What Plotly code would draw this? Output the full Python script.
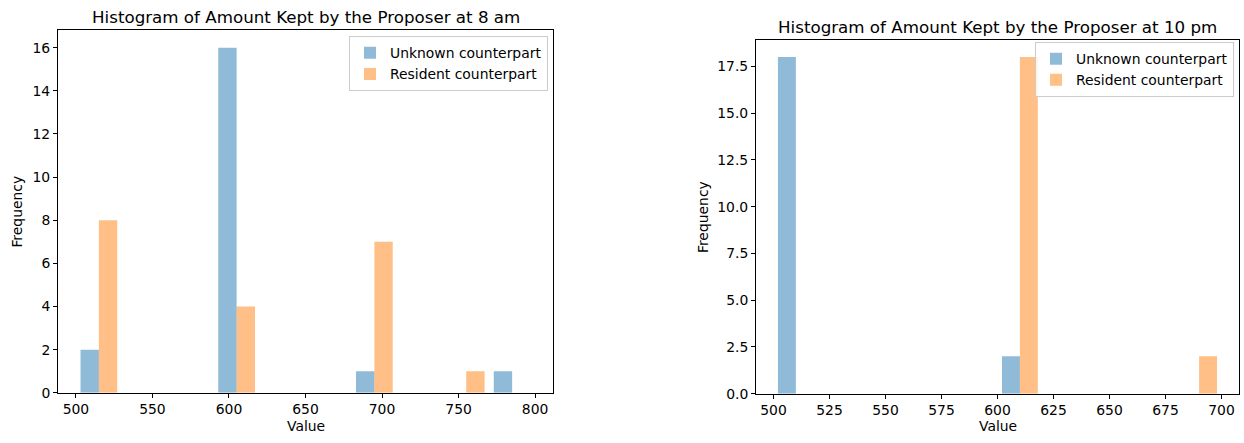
import plotly.graph_objects as go

W, H = 1244, 443

# ---- data (histogram counts per bin) ----
left_bin_starts = [500, 530, 560, 590, 620, 650, 680, 710, 740, 770]
left_unknown = [2, 0, 0, 16, 0, 0, 1, 0, 0, 1]
left_resident = [8, 0, 0, 4, 0, 0, 7, 0, 1, 0]
left_bin_width = 30

right_bin_starts = [500, 520, 540, 560, 580, 600, 620, 640, 660, 680]
right_unknown = [18, 0, 0, 0, 0, 2, 0, 0, 0, 0]
right_resident = [0, 0, 0, 0, 0, 18, 0, 0, 0, 2]
right_bin_width = 20

series_names = ["Unknown counterpart", "Resident counterpart"]
titles = ["Histogram of Amount Kept by the Proposer at 8 am",
          "Histogram of Amount Kept by the Proposer at 10 pm"]

BLUE = "rgba(31,119,180,0.5)"
ORANGE = "rgba(255,127,14,0.5)"
FONT = "DejaVu Sans"
TXT = 13.9
TITLE = 16.7

fig = go.Figure()

def add_hist(starts, bw, unk, res, xa, ya, legend):
    centers = [s + bw / 2 for s in starts]
    fig.add_trace(go.Bar(x=centers, y=unk, width=0.4 * bw, offset=-0.4 * bw,
                         marker=dict(color=BLUE, line=dict(width=0)),
                         name=series_names[0], xaxis=xa, yaxis=ya, legend=legend))
    fig.add_trace(go.Bar(x=centers, y=res, width=0.4 * bw, offset=0,
                         marker=dict(color=ORANGE, line=dict(width=0)),
                         name=series_names[1], xaxis=xa, yaxis=ya, legend=legend))

add_hist(left_bin_starts, left_bin_width, left_unknown, left_resident, "x", "y", "legend")
add_hist(right_bin_starts, right_bin_width, right_unknown, right_resident, "x2", "y2", "legend2")

def px_x(a, b):
    return [a / W, b / W]

def px_y(top, bottom):
    return [1 - bottom / H, 1 - top / H]

axis_common = dict(showline=True, linecolor="black", linewidth=1, mirror=True,
                   ticks="outside", ticklen=4, tickwidth=1, tickcolor="black",
                   showgrid=False, zeroline=False,
                   tickfont=dict(family=FONT, size=TXT, color="black"))

L = dict(x0=58, x1=553, y0=31, y1=400)
R = dict(x0=756, x1=1239, y0=41, y1=401)

fig.update_layout(
    width=W, height=H, margin=dict(l=0, r=0, t=0, b=0),
    paper_bgcolor="white", plot_bgcolor="white",
    barmode="overlay",
    font=dict(family=FONT, size=TXT, color="black"),
    xaxis=dict(domain=px_x(L["x0"], L["x1"]), anchor="y", range=[488.3, 811.7],
               tick0=500, dtick=50, **axis_common),
    yaxis=dict(domain=px_y(L["y0"], L["y1"]), anchor="x", range=[0, 16.8],
               tick0=0, dtick=2, **axis_common),
    xaxis2=dict(domain=px_x(R["x0"], R["x1"]), anchor="y2", range=[492.2, 707.8],
                tick0=500, dtick=25, **axis_common),
    yaxis2=dict(domain=px_y(R["y0"], R["y1"]), anchor="x2", range=[0, 18.9],
                tick0=0, dtick=2.5, tickformat=".1f", **axis_common),
    legend=dict(x=548 / W, xanchor="right", y=1 - 37 / H, yanchor="top",
                bgcolor="rgba(255,255,255,0.8)", bordercolor="#cccccc", borderwidth=1,
                font=dict(family=FONT, size=TXT, color="black")),
    legend2=dict(x=1234 / W, xanchor="right", y=1 - 43 / H, yanchor="top",
                 bgcolor="rgba(255,255,255,0.8)", bordercolor="#cccccc", borderwidth=1,
                 font=dict(family=FONT, size=TXT, color="black")),
    showlegend=True,
)

ann = []
ann.append(dict(text=titles[0], x=(L["x0"] + L["x1"]) / 2 / W, y=1 - 17 / H,
                xref="paper", yref="paper", showarrow=False,
                xanchor="center", yanchor="middle",
                font=dict(family=FONT, size=TITLE, color="black")))
ann.append(dict(text=titles[1], x=(R["x0"] + R["x1"]) / 2 / W, y=1 - 27 / H,
                xref="paper", yref="paper", showarrow=False,
                xanchor="center", yanchor="middle",
                font=dict(family=FONT, size=TITLE, color="black")))
for ax, fx in ((L, 17), (R, 703)):
    ann.append(dict(text="Value", x=(ax["x0"] + ax["x1"]) / 2 / W, y=1 - 434 / H,
                    xref="paper", yref="paper", showarrow=False,
                    xanchor="center", yanchor="middle",
                    font=dict(family=FONT, size=TXT, color="black")))
    ann.append(dict(text="Frequency", x=fx / W, y=1 - ((ax["y0"] + ax["y1"]) / 2) / H,
                    xref="paper", yref="paper", showarrow=False, textangle=-90,
                    xanchor="center", yanchor="middle",
                    font=dict(family=FONT, size=TXT, color="black")))
fig.update_layout(annotations=ann)

post = ("document.documentElement.style.margin='0px';"
        "document.documentElement.style.overflow='hidden';"
        "document.body.style.margin='0px';"
        "document.body.style.padding='0px';"
        "document.body.style.overflow='hidden';")

fig.write_html("out.html", config={"displayModeBar": False}, post_script=post)
